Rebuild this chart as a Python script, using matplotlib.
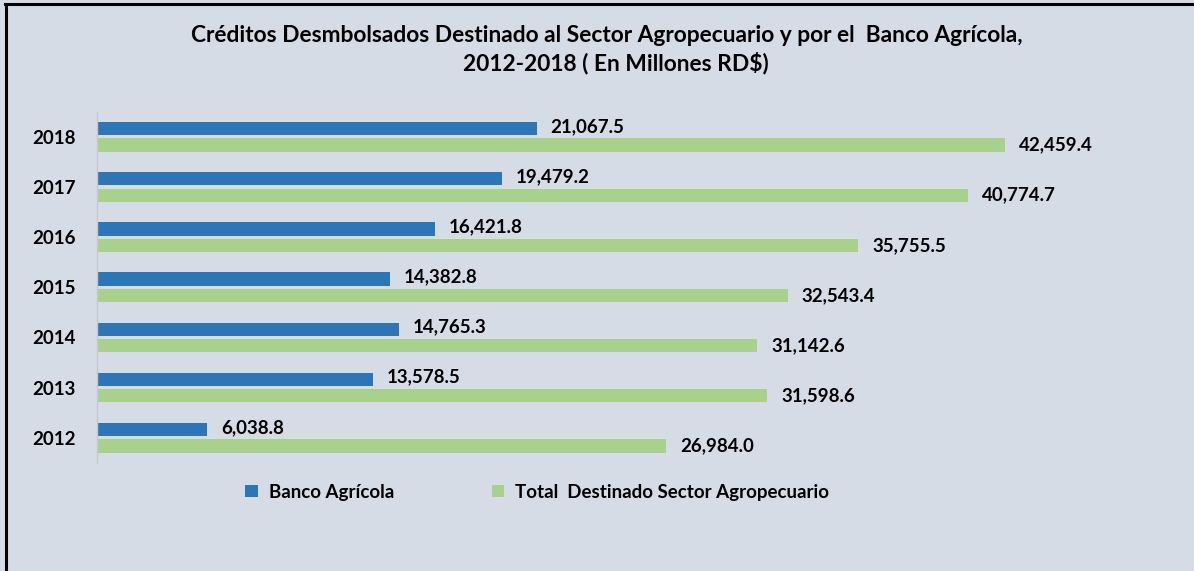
import matplotlib
matplotlib.use('Agg')
import matplotlib.pyplot as plt
from matplotlib.lines import Line2D
import numpy as np

BG    = '#D6DCE5'
BLUE  = '#2E75B6'
GREEN = '#A9D18E'

plt.rcParams['font.family'] = ['Lato', 'DejaVu Sans']

years = ['2012', '2013', '2014', '2015', '2016', '2017', '2018']
banco = [6038.8, 13578.5, 14765.3, 14382.8, 16421.8, 19479.2, 21067.5]
total = [26984.0, 31598.6, 31142.6, 32543.4, 35755.5, 40774.7, 42459.4]
series_names = ['Banco Agrícola', 'Total  Destinado Sector Agropecuario']

fig = plt.figure(figsize=(11.94, 5.71), dpi=100, facecolor=BG)
ax = fig.add_axes([0.0812, 0.1895, 0.844, 0.6149])
ax.set_facecolor(BG)

y = np.arange(len(years))
h = 0.265
off = 0.164
b1 = ax.barh(y + off, banco, height=h, color=BLUE, label=series_names[0])
b2 = ax.barh(y - off, total, height=h, color=GREEN, label=series_names[1])

for bars, vals, dy in ((b1, banco, 1.5), (b2, total, 0)):
    for bar, v in zip(bars, vals):
        ax.annotate(f'{v:,.1f}', (v, bar.get_y() + bar.get_height() / 2),
                    xytext=(10, dy), textcoords='offset points',
                    va='center', ha='left', fontsize=13.5, fontweight='bold',
                    color='black')

ax.set_xlim(1000, 47000)
ax.set_ylim(-0.5, 6.5)
ax.set_yticks(y)
ax.set_yticklabels(years, fontsize=13.5, fontweight='bold')
ax.tick_params(axis='y', length=0, pad=15)
ax.set_xticks([])
for s in ['top', 'right', 'bottom']:
    ax.spines[s].set_visible(False)
ax.spines['left'].set_color('#C4C8CC')
ax.spines['left'].set_linewidth(1)

fig.text(0.5085, 0.938,
         'Créditos Desmbolsados Destinado al Sector Agropecuario y por el  Banco Agrícola,',
         ha='center', va='center', fontsize=16.4, fontweight='bold')
fig.text(0.5155, 0.889, '2012-2018 ( En Millones RD$)',
         ha='center', va='center', fontsize=16.4, fontweight='bold')

fig.legend(handles=[b1, b2], loc='center', bbox_to_anchor=(0.450, 0.138),
           ncol=2, frameon=False, prop={'weight': 'bold', 'size': 13.5},
           handlelength=0.65, handleheight=0.65, columnspacing=5.2,
           handletextpad=0.6)

# black frame lines on left and top, as in the cropped original
fig.add_artist(Line2D([0.0050, 0.0050], [0.0, 0.9925], color='black',
                      linewidth=2.2, transform=fig.transFigure))
fig.add_artist(Line2D([0.0040, 0.998], [0.9925, 0.9925], color='black',
                      linewidth=2.2, transform=fig.transFigure))

fig.savefig('out.png', dpi=100, facecolor=BG)
